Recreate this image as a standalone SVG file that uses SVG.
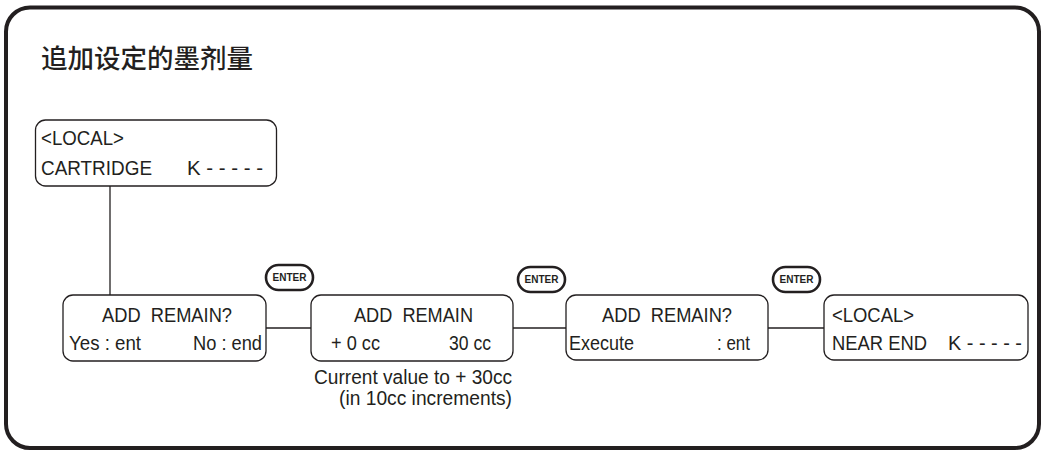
<svg xmlns="http://www.w3.org/2000/svg" width="1043" height="452" viewBox="0 0 1043 452">
<style>
.frame{fill:#fff;stroke:#231f20;stroke-width:4}
.box{fill:#fff;stroke:#231f20;stroke-width:1.3}
.pill{fill:#fff;stroke:#231f20;stroke-width:2.6}
.ln{fill:none;stroke:#231f20;stroke-width:1.3}
.t{font-family:"Liberation Sans",Arial,sans-serif;font-size:20.5px;fill:#231f20;white-space:pre}
.k{font-family:"Liberation Sans",Arial,sans-serif;font-size:10px;font-weight:bold;fill:#231f20;text-anchor:middle}
.title{font-family:"Noto Sans CJK SC",sans-serif;font-size:26.5px;font-weight:500;fill:#231f20}
</style>
<rect class="frame" x="6" y="7.5" width="1033" height="440.5" rx="24"/>
<text class="title" x="41" y="68">追加设定的墨剂量</text>
<g id="connectors">
<line class="ln" x1="110" y1="186" x2="110" y2="295"/>
<line class="ln" x1="266" y1="328" x2="311" y2="328"/>
<line class="ln" x1="513" y1="328" x2="566" y2="328"/>
<line class="ln" x1="768" y1="328" x2="824" y2="328"/>
</g>
<g id="local1">
<rect class="box" x="35.5" y="120" width="241" height="66" rx="10"/>
<text class="t" x="41" y="145" textLength="83" lengthAdjust="spacingAndGlyphs">&lt;LOCAL&gt;</text>
<text class="t" x="41" y="175" textLength="111" lengthAdjust="spacingAndGlyphs">CARTRIDGE</text>
<text class="t" x="187" y="175" textLength="76" lengthAdjust="spacingAndGlyphs">K - - - - -</text>
</g>
<g id="enter1">
<rect class="pill" x="266" y="265" width="47" height="25" rx="12.5"/>
<text class="k" x="289.5" y="281">ENTER</text>
</g>
<g id="box1">
<rect class="box" x="63" y="295" width="203" height="66" rx="10"/>
<text class="t" x="102" y="322" textLength="130" lengthAdjust="spacingAndGlyphs">ADD  REMAIN?</text>
<text class="t" x="69" y="350" textLength="72" lengthAdjust="spacingAndGlyphs">Yes : ent</text>
<text class="t" x="193" y="350" textLength="69" lengthAdjust="spacingAndGlyphs">No : end</text>
</g>
<g id="enter2">
<rect class="pill" x="518" y="267" width="47" height="25" rx="12.5"/>
<text class="k" x="541.5" y="283">ENTER</text>
</g>
<g id="box2">
<rect class="box" x="311" y="295" width="202" height="66" rx="10"/>
<text class="t" x="354" y="322" textLength="119" lengthAdjust="spacingAndGlyphs">ADD  REMAIN</text>
<text class="t" x="331" y="350" textLength="49" lengthAdjust="spacingAndGlyphs">+ 0 cc</text>
<text class="t" x="449" y="350" textLength="42" lengthAdjust="spacingAndGlyphs">30 cc</text>
<text class="t" x="314" y="384" textLength="198" lengthAdjust="spacingAndGlyphs">Current value to + 30cc</text>
<text class="t" x="339" y="405" textLength="173" lengthAdjust="spacingAndGlyphs">(in 10cc increments)</text>
</g>
<g id="enter3">
<rect class="pill" x="773" y="267" width="47" height="25" rx="12.5"/>
<text class="k" x="796.5" y="283">ENTER</text>
</g>
<g id="box3">
<rect class="box" x="566" y="295" width="202" height="65" rx="10"/>
<text class="t" x="602" y="322" textLength="130" lengthAdjust="spacingAndGlyphs">ADD  REMAIN?</text>
<text class="t" x="569" y="350" textLength="65" lengthAdjust="spacingAndGlyphs">Execute</text>
<text class="t" x="717" y="350" textLength="33" lengthAdjust="spacingAndGlyphs">: ent</text>
</g>
<g id="local2">
<rect class="box" x="824" y="295" width="204" height="65" rx="10"/>
<text class="t" x="832" y="322" textLength="82" lengthAdjust="spacingAndGlyphs">&lt;LOCAL&gt;</text>
<text class="t" x="832" y="350" textLength="95" lengthAdjust="spacingAndGlyphs">NEAR END</text>
<text class="t" x="948" y="350" textLength="74" lengthAdjust="spacingAndGlyphs">K - - - - -</text>
</g>
</svg>
